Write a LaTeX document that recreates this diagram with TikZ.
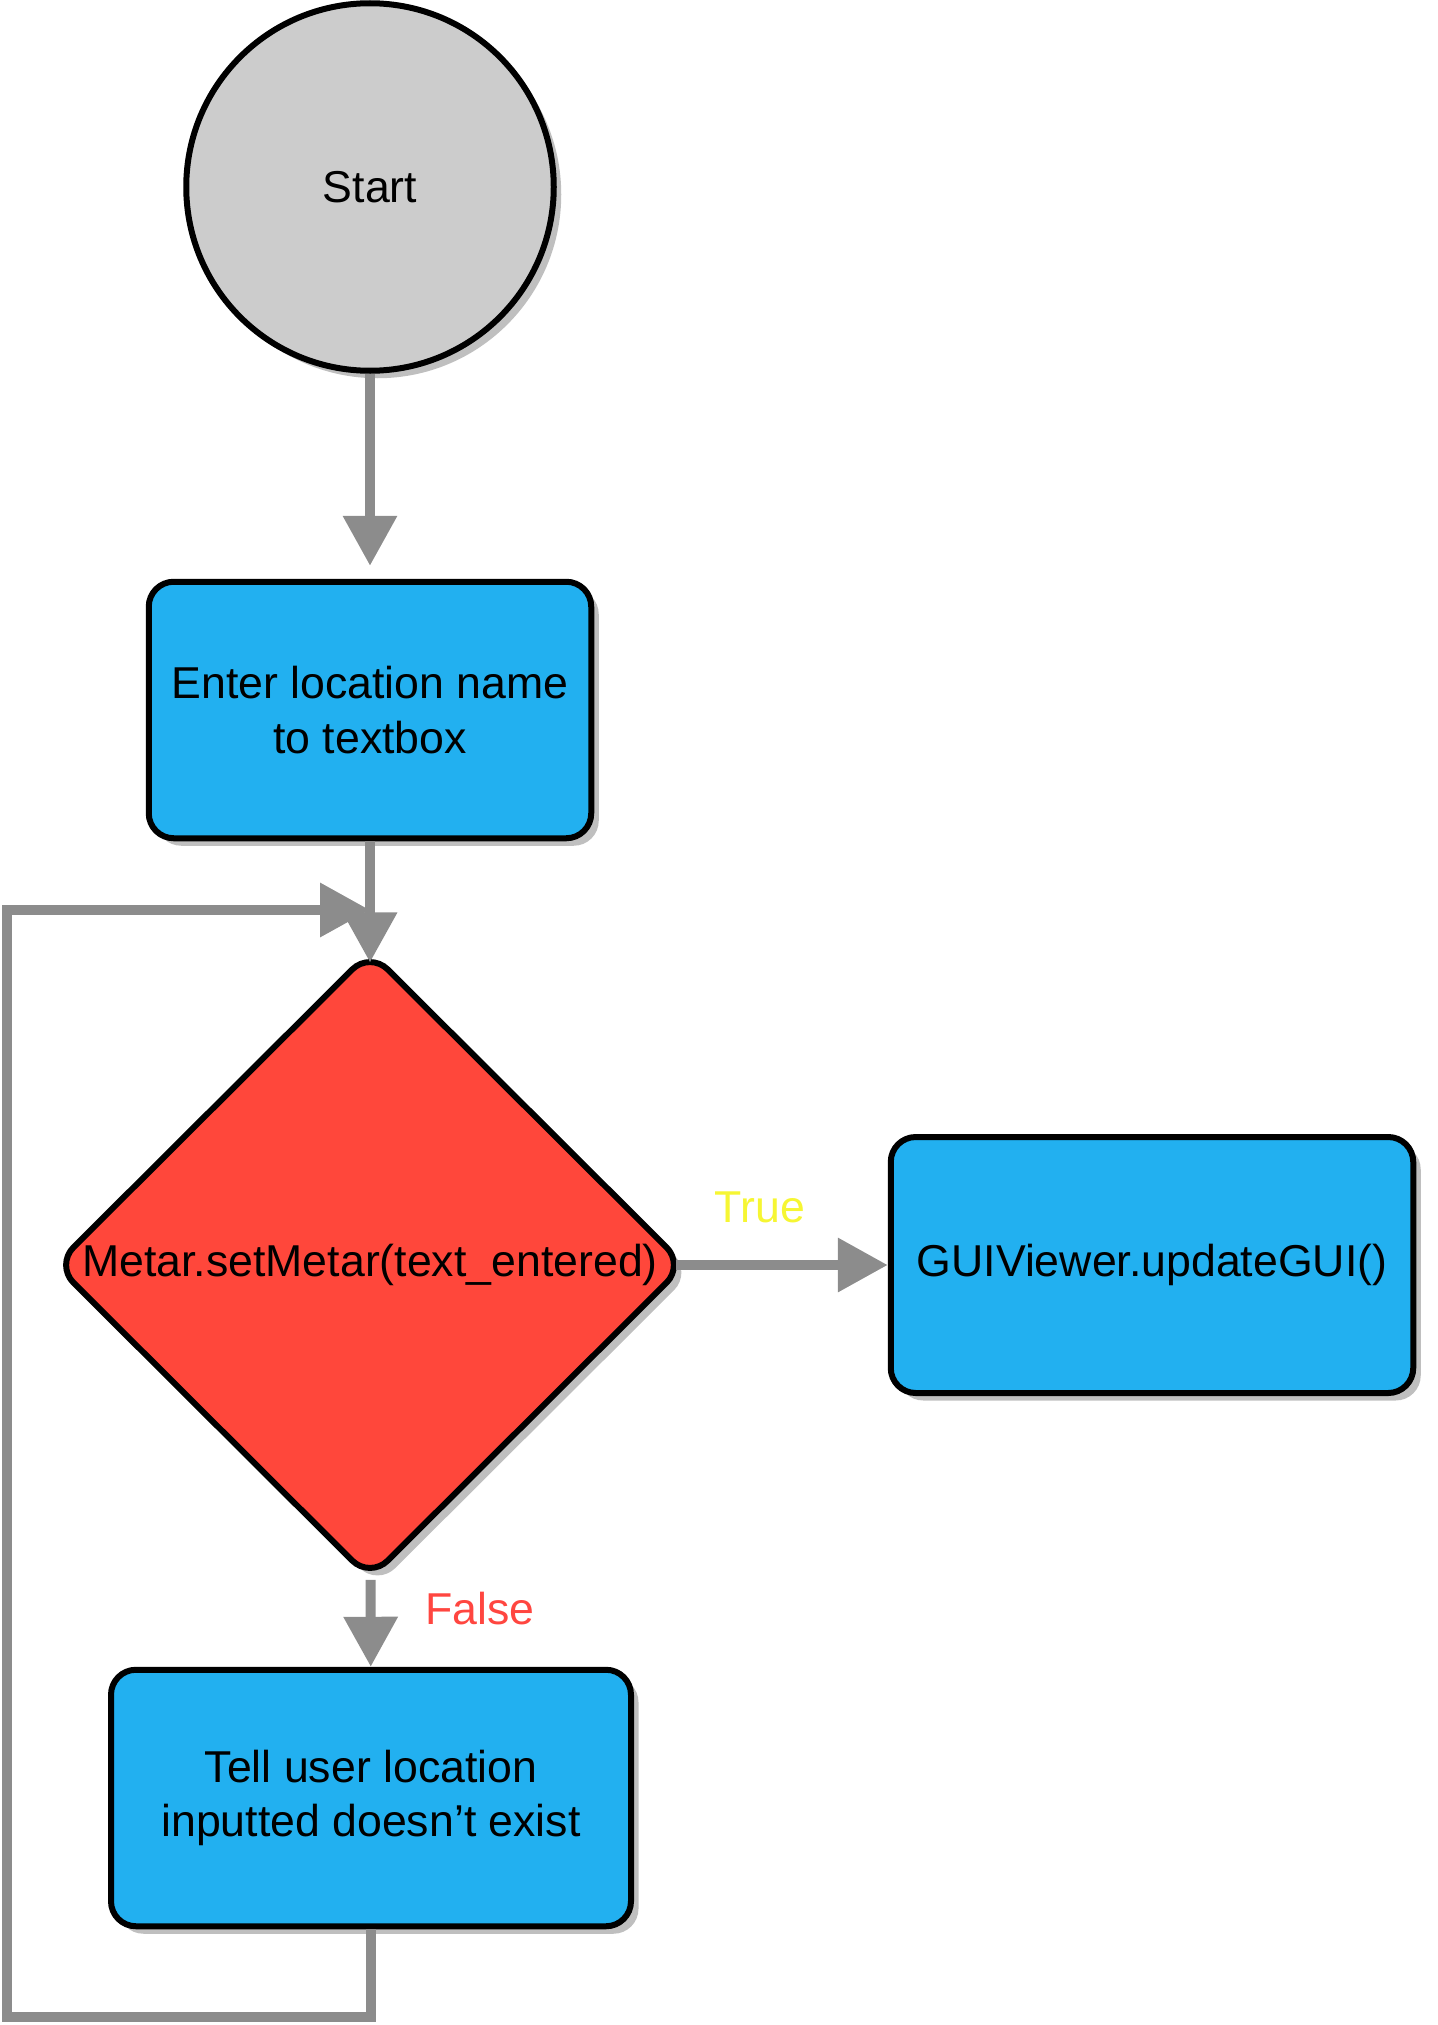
\documentclass[tikz,border=0pt]{standalone}
\usepackage{fontspec}
\setmainfont{Liberation Sans}
\usetikzlibrary{shapes.geometric,arrows.meta,shadows}
\definecolor{procblue}{HTML}{22B0F0}
\definecolor{decred}{HTML}{FF473B}
\definecolor{startgray}{HTML}{CCCCCC}
\definecolor{flowgray}{HTML}{8C8C8C}
\definecolor{trueyellow}{HTML}{F6F633}
\definecolor{falsered}{HTML}{FF4640}
\begin{document}
\begin{tikzpicture}[scale=2,
 every node/.style={font=\fontsize{25.4}{31}\selectfont},
 shaded/.style={line width=0.12cm,draw=black,
   drop shadow={shadow xshift=0.15cm,shadow yshift=-0.15cm,opacity=0.5}},
 terminal/.style={shaded,circle,fill=startgray,minimum size=7.35cm,inner sep=0},
 process/.style={shaded,rectangle,rounded corners=0.5cm,fill=procblue,align=center,inner sep=0},
 decision/.style={shaded,diamond,rounded corners=0.5cm,fill=decred,inner sep=0,
   minimum width=12.62cm,minimum height=12.58cm},
 flow/.style={line width=0.2cm,draw=flowgray,
   -{Triangle[length=1cm,width=1.04cm]}}]
% flowchart, 1 unit = 100 px of the reference
\useasboundingbox (0,0) rectangle (14.37,-20.25);
\def\flowdraw{\draw[flow]}
\node[terminal] (start) at (3.70,-1.87) {Start};
\node[process,minimum width=8.85cm,minimum height=5.13cm] (enter) at (3.70,-7.10)
 {Enter location name\\to textbox};
\node[decision] (check) at (3.70,-12.65) {};
\node (checktext) at (check) {Metar.setMetar(text\_entered)};
\node[process,minimum width=10.45cm,minimum height=5.12cm] (gui) at (11.52,-12.65)
 {GUIViewer.updateGUI()};
\node[process,minimum width=10.4cm,minimum height=5.13cm] (tell) at (3.71,-17.98)
 {Tell user location\\inputted doesn’t exist};
\node[text=trueyellow] (truelabel) at (7.60,-12.07) {True};
\node[text=falsered] (falselabel) at (4.80,-16.09) {False};
\coordinate (back) at (0.07,-20.17);
\coordinate (loopin) at (3.70,-9.10);
\flowdraw[shorten >=0.26cm] (start) -- (enter);
\flowdraw[shorten >=-0.3cm] (enter) -- (check);
\flowdraw[shorten <=-0.26cm] (check) -- (gui);
\flowdraw[shorten <=-0.04cm] (check) -- (tell);
\flowdraw (tell.south) |- (back) |- (loopin);
\end{tikzpicture}
\end{document}
